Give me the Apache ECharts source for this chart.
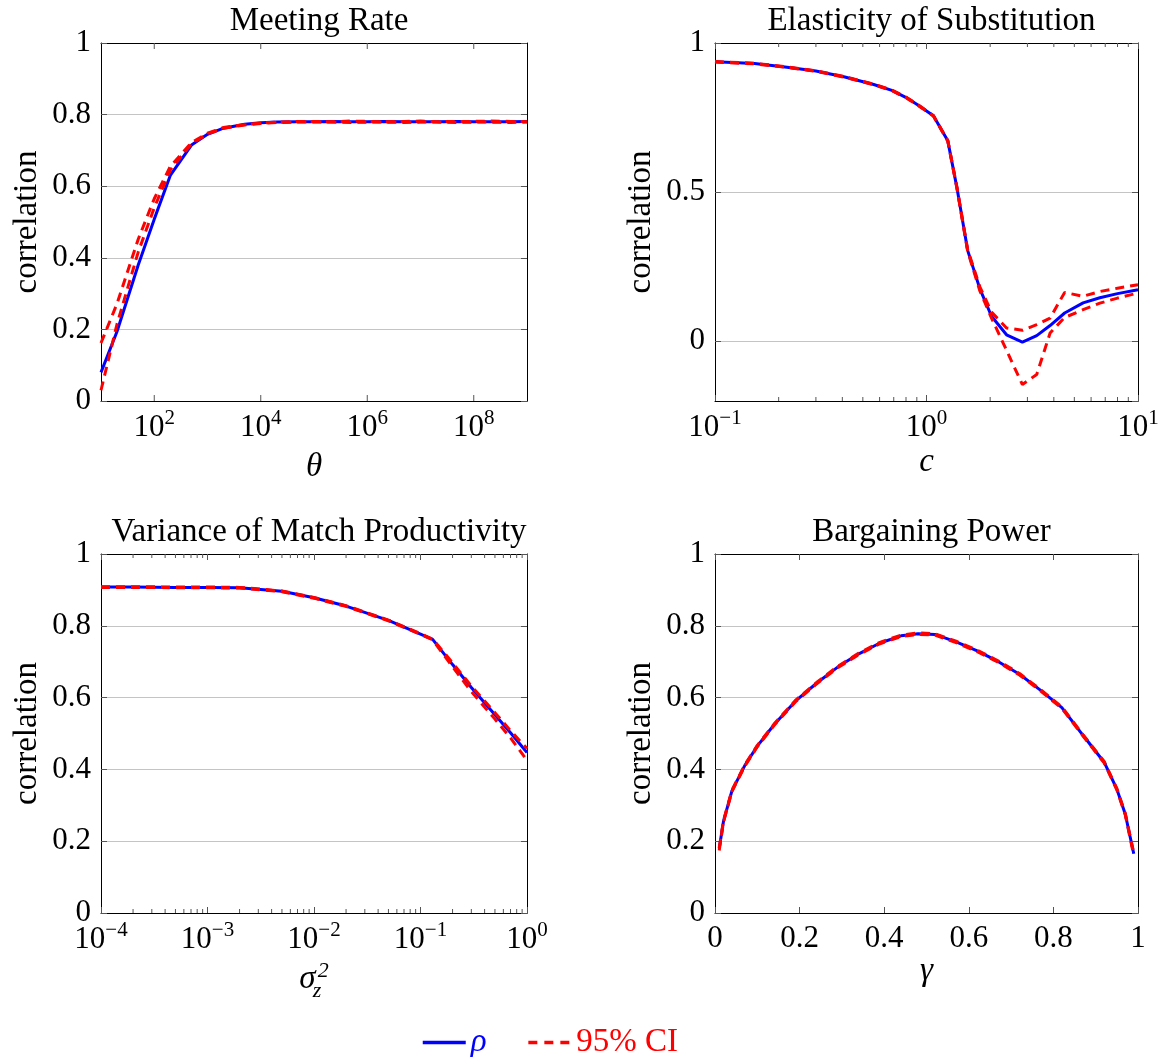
<!DOCTYPE html>
<html>
<head>
<meta charset="utf-8">
<script src="https://cdn.jsdelivr.net/npm/echarts@6.0.0/dist/echarts.min.js"></script>
<style>
html, body { margin: 0; padding: 0; background: #fff; }
#main { width: 1166px; height: 1057px; }
</style>
</head>
<body>
<div id="main"></div>
<script>
// ---- data ----

// Meeting Rate
var theta = [10, 20, 50, 100, 200, 500, 1e3, 2e3, 5e3, 1e4, 2e4, 5e4, 1e5, 2e5, 5e5, 1e6, 2e6, 5e6, 1e7, 2e7, 5e7, 1e8, 2e8, 5e8, 1e9];
var rhoTheta = [0.080, 0.194, 0.380, 0.508, 0.630, 0.715, 0.745, 0.762, 0.773, 0.777, 0.779, 0.780, 0.780, 0.781, 0.780, 0.780, 0.781, 0.780, 0.780, 0.780, 0.781, 0.780, 0.780, 0.780, 0.781];
var upTheta = [0.162, 0.272, 0.452, 0.565, 0.655, 0.722, 0.748, 0.764, 0.772, 0.776, 0.779, 0.781, 0.781, 0.780, 0.782, 0.781, 0.780, 0.781, 0.782, 0.780, 0.781, 0.781, 0.782, 0.781, 0.780];
var loTheta = [0.030, 0.215, 0.416, 0.540, 0.645, 0.718, 0.746, 0.762, 0.771, 0.775, 0.778, 0.779, 0.779, 0.779, 0.778, 0.779, 0.779, 0.778, 0.779, 0.779, 0.778, 0.779, 0.779, 0.778, 0.779];
var thetaTicks = [1e2, 1e4, 1e6, 1e8];

// Elasticity of Substitution
var cVals = [0.1, 0.154, 0.219, 0.30, 0.411, 0.563, 0.686, 0.802, 0.903, 1.078, 1.261, 1.391, 1.565, 1.79, 2.03, 2.39, 2.84, 3.32, 3.84, 4.5, 5.5, 6.6, 8.0, 10];
var rhoC = [0.937, 0.931, 0.919, 0.906, 0.886, 0.861, 0.841, 0.817, 0.794, 0.756, 0.672, 0.517, 0.305, 0.175, 0.084, 0.022, -0.003, 0.019, 0.053, 0.095, 0.129, 0.146, 0.160, 0.173];
var upC = [0.938, 0.932, 0.920, 0.907, 0.887, 0.862, 0.842, 0.818, 0.795, 0.757, 0.673, 0.519, 0.308, 0.182, 0.098, 0.045, 0.037, 0.056, 0.078, 0.164, 0.151, 0.167, 0.178, 0.190];
var loC = [0.936, 0.930, 0.918, 0.905, 0.885, 0.860, 0.840, 0.816, 0.793, 0.755, 0.671, 0.515, 0.302, 0.168, 0.078, -0.030, -0.145, -0.111, 0.028, 0.080, 0.106, 0.128, 0.145, 0.162];

// Variance of Match Productivity
var sigma = [1e-4, 2e-4, 5e-4, 1e-3, 2e-3, 5e-3, 1e-2, 2e-2, 5e-2, 0.1, 0.13, 0.2, 0.3, 0.5, 0.7, 1.0];
var rhoSigma = [0.908, 0.908, 0.907, 0.907, 0.906, 0.896, 0.878, 0.855, 0.815, 0.777, 0.762, 0.692, 0.628, 0.552, 0.502, 0.447];
var upSigma = [0.909, 0.909, 0.908, 0.908, 0.907, 0.897, 0.879, 0.856, 0.816, 0.778, 0.763, 0.697, 0.632, 0.558, 0.508, 0.458];
var loSigma = [0.907, 0.907, 0.906, 0.906, 0.905, 0.895, 0.877, 0.854, 0.814, 0.776, 0.761, 0.686, 0.617, 0.540, 0.488, 0.425];

// Bargaining Power
var gammaVals = [0.01, 0.02, 0.04, 0.07, 0.10, 0.14, 0.19, 0.24, 0.29, 0.34, 0.39, 0.44, 0.48, 0.52, 0.57, 0.62, 0.67, 0.72, 0.77, 0.82, 0.87, 0.92, 0.95, 0.97, 0.99];
var rhoGamma = [0.180, 0.255, 0.340, 0.410, 0.465, 0.525, 0.590, 0.640, 0.685, 0.722, 0.752, 0.772, 0.778, 0.776, 0.755, 0.730, 0.700, 0.665, 0.620, 0.572, 0.495, 0.420, 0.345, 0.275, 0.165];
var upGamma = [0.182, 0.257, 0.342, 0.412, 0.467, 0.527, 0.592, 0.642, 0.687, 0.724, 0.754, 0.774, 0.780, 0.778, 0.757, 0.732, 0.702, 0.667, 0.622, 0.574, 0.497, 0.422, 0.347, 0.277, 0.167];
var loGamma = [0.174, 0.253, 0.338, 0.408, 0.463, 0.523, 0.588, 0.638, 0.683, 0.720, 0.750, 0.770, 0.776, 0.774, 0.753, 0.728, 0.698, 0.663, 0.618, 0.570, 0.493, 0.418, 0.343, 0.273, 0.160];

var titles = ['Meeting Rate', 'Elasticity of Substitution', 'Variance of Match Productivity', 'Bargaining Power'];
var legendNames = ['\u03c1', '95% CI'];

// ---- styling ----
var FONT = 'Liberation Serif';
var BLUE = '#0000ff';
var RED = '#ff0000';
var TICK = '#555';
var GRIDLINE = '#c4c4c4';

var myChart = echarts.init(document.getElementById('main'));

var grids = [
    {left: 101, top: 43, width: 426, height: 358},
    {left: 715, top: 43, width: 423, height: 358},
    {left: 101, top: 554, width: 426, height: 359},
    {left: 715, top: 554, width: 423, height: 359}
];

function pts(xs, ys) {
    return xs.map(function (x, i) { return [x, ys[i]]; });
}

// labels like 10^2
var powRich = {
    b: {fontFamily: FONT, fontSize: 31, color: '#000', lineHeight: 32, verticalAlign: 'bottom'},
    e: {fontFamily: FONT, fontSize: 21, color: '#000', lineHeight: 22, verticalAlign: 'bottom', padding: [0, 0, 14, 0]}
};
function powLabel(skipOdd) {
    return function (v) {
        var e = Math.round(Math.log10(v));
        if (skipOdd && e % 2 !== 0) return '';
        return '{b|10}{e|' + (e < 0 ? '\u2212' + (-e) : e) + '}';
    };
}

var nameRich = {
    i: {fontFamily: FONT, fontSize: 33, fontStyle: 'italic', color: '#000', lineHeight: 33, verticalAlign: 'bottom', padding: [0, 0, 8, 0]},
    s: {fontFamily: FONT, fontSize: 22, fontStyle: 'italic', color: '#000', lineHeight: 22, verticalAlign: 'bottom', padding: [0, 0, 2, 1], width: 1, align: 'left'},
    p: {fontFamily: FONT, fontSize: 22, color: '#000', lineHeight: 22, verticalAlign: 'bottom', padding: [0, 0, 22, 0]}
};

// minor ticks of a log axis: 2..9 in every decade
function minorTicks(lo, hi) {
    var out = [];
    for (var e = lo; e < hi; e++) {
        for (var m = 2; m <= 9; m++) out.push(m * Math.pow(10, e));
    }
    return out;
}

function tickSeries(idx, values, len, yRef) {
    return {
        type: 'custom',
        xAxisIndex: 2 * idx,
        yAxisIndex: 2 * idx,
        silent: true,
        clip: false,
        z: 5,
        data: values.map(function (v) { return [v, yRef]; }),
        renderItem: function (params, api) {
            var x = api.coord([api.value(0), api.value(1)])[0];
            var cs = params.coordSys;
            var b = cs.y + cs.height;
            return {
                type: 'group',
                children: [
                    {type: 'line', shape: {x1: x, y1: b, x2: x, y2: b - len}, style: {stroke: TICK, lineWidth: 1}},
                    {type: 'line', shape: {x1: x, y1: cs.y, x2: x, y2: cs.y + len}, style: {stroke: TICK, lineWidth: 1}}
                ]
            };
        }
    };
}

var xSpecs = [
    {type: 'log', min: 10, max: 1e9, ticks: false, fmt: powLabel(true), rich: powRich, name: '{i|\u03b8}', gap: 58},
    {type: 'log', min: 0.1, max: 10, ticks: true, fmt: powLabel(false), rich: powRich, name: '{i|c}', gap: 53},
    {type: 'log', min: 1e-4, max: 1, ticks: true, fmt: powLabel(false), rich: powRich, name: '{i|\u03c3}{s|z}{p|2}', gap: 58},
    {type: 'value', min: 0, max: 1, interval: 0.2, ticks: true, fmt: null, rich: null, name: '{i|\u03b3}', gap: 25}
];
var ySpecs = [
    {min: 0, max: 1, interval: 0.2},
    {min: -0.2, max: 1, splitNumber: 2},
    {min: 0, max: 1, interval: 0.2},
    {min: 0, max: 1, interval: 0.2}
];

var xAxes = [], yAxes = [];
xSpecs.forEach(function (s, i) {
    var base = {
        gridIndex: i,
        type: s.type,
        min: s.min,
        max: s.max,
        splitLine: {show: false},
        axisLine: {show: true, onZero: false, lineStyle: {color: '#000', width: 1}},
        axisTick: {show: s.ticks, inside: true, length: 6, lineStyle: {color: TICK}}
    };
    if (s.type === 'log') base.logBase = 10;
    if (s.interval) base.interval = s.interval;
    var bottom = Object.assign({}, base, {
        position: 'bottom',
        name: s.name,
        nameLocation: 'middle',
        nameGap: s.gap,
        nameTextStyle: {fontFamily: FONT, fontSize: 33, fontStyle: 'italic', color: '#000', rich: nameRich},
        axisLabel: {
            margin: 10,
            fontFamily: FONT,
            fontSize: 31,
            color: '#000',
            formatter: s.fmt || undefined,
            rich: s.rich || undefined
        }
    });
    var top = Object.assign({}, base, {position: 'top', axisLabel: {show: false}});
    xAxes.push(bottom, top);
});
ySpecs.forEach(function (s, i) {
    var base = {
        gridIndex: i,
        type: 'value',
        min: s.min,
        max: s.max,
        axisLine: {show: true, onZero: false, lineStyle: {color: '#000', width: 1}},
        axisTick: {show: true, inside: true, length: 6, lineStyle: {color: TICK}}
    };
    if (s.interval) base.interval = s.interval;
    if (s.splitNumber) base.splitNumber = s.splitNumber;
    var left = Object.assign({}, base, {
        position: 'left',
        name: 'correlation',
        nameLocation: 'middle',
        nameGap: 57,
        nameTextStyle: {fontFamily: FONT, fontSize: 33, color: '#000'},
        splitLine: {show: true, lineStyle: {color: GRIDLINE, width: 1}},
        axisLabel: {
            margin: 10,
            fontFamily: FONT,
            fontSize: 31,
            color: '#000',
            showMinLabel: s.min === 0
        }
    });
    var right = Object.assign({}, base, {position: 'right', splitLine: {show: false}, axisLabel: {show: false}});
    yAxes.push(left, right);
});

var panels = [
    [theta, rhoTheta, upTheta, loTheta],
    [cVals, rhoC, upC, loC],
    [sigma, rhoSigma, upSigma, loSigma],
    [gammaVals, rhoGamma, upGamma, loGamma]
];

var series = [];
panels.forEach(function (p, i) {
    series.push({
        name: legendNames[0], type: 'line', xAxisIndex: 2 * i, yAxisIndex: 2 * i,
        data: pts(p[0], p[1]), symbol: 'none', z: 2,
        lineStyle: {color: BLUE, width: 3}, itemStyle: {color: BLUE}
    });
    [p[2], p[3]].forEach(function (ys) {
        series.push({
            name: legendNames[1], type: 'line', xAxisIndex: 2 * i, yAxisIndex: 2 * i,
            data: pts(p[0], ys), symbol: 'none', z: 3,
            lineStyle: {color: RED, width: 3, type: [9, 6]}, itemStyle: {color: RED}
        });
    });
});

// hand-made ticks for log axes
series.push(tickSeries(0, thetaTicks, 6, 0.5));
series.push(tickSeries(1, minorTicks(-1, 1), 4, 0.5));
series.push(tickSeries(2, minorTicks(-4, 0), 4, 0.5));

option = {
    backgroundColor: '#fff',
    animation: false,
    title: titles.map(function (t, i) {
        return {
            text: t,
            left: grids[i].left + grids[i].width / 2,
            top: i < 2 ? 0 : 511,
            textAlign: 'center',
            textStyle: {fontFamily: FONT, fontSize: 33, fontWeight: 'normal', color: '#000'}
        };
    }),
    legend: {
        left: 416,
        top: 1021,
        itemWidth: 43,
        itemHeight: 14,
        itemGap: 40,
        itemStyle: {opacity: 0},
        textStyle: {fontFamily: FONT, fontSize: 33},
        data: [
            {name: legendNames[0], textStyle: {color: BLUE, fontStyle: 'italic'},
                lineStyle: {width: 3.5, color: BLUE, type: 'solid'}},
            {name: legendNames[1], textStyle: {color: RED},
                lineStyle: {width: 3.5, color: RED, type: [9, 7]}}
        ]
    },
    grid: grids,
    xAxis: xAxes,
    yAxis: yAxes,
    series: series
};

myChart.setOption(option);
</script>
</body>
</html>
